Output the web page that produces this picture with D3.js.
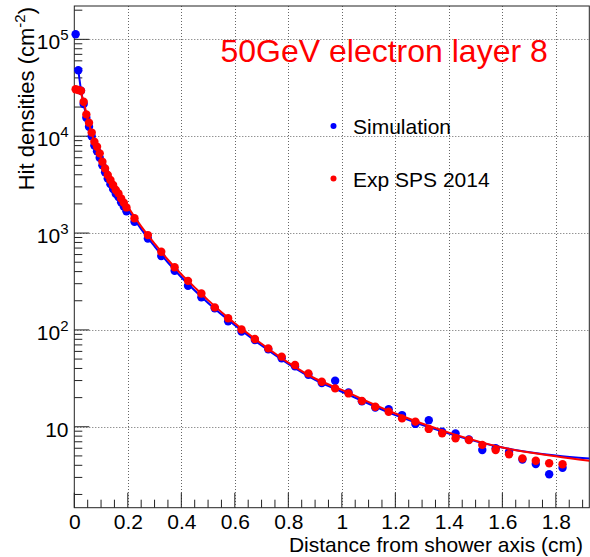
<!DOCTYPE html>
<html><head><meta charset="utf-8">
<script src="https://cdn.jsdelivr.net/npm/d3@7"></script>
<style>body{margin:0;background:#fff}svg{display:block}text{font-family:"Liberation Sans",Arial,sans-serif}</style>
</head><body>
<script>
// ---- data ----
const xBins = [0.005,0.015,0.025,0.035,0.045,0.055,0.065,0.075,0.085,0.095,0.105,0.115,0.125,0.135,0.145,0.155,0.165,0.175,0.185,0.195,
  0.225,0.275,0.325,0.375,0.425,0.475,0.525,0.575,0.625,0.675,0.725,0.775,0.825,0.875,0.925,0.975,1.025,1.075,1.125,1.175,1.225,1.275,
  1.325,1.375,1.425,1.475,1.525,1.575,1.625,1.675,1.725,1.775,1.825];
const simValues = [113000,48000,29500,21500,15500,12500,10000,8000,7000,6000,5000,4250,3650,3200,2850,2550,2350,2080,1880,1680,
  1310,880,578,408,286,217,167,123,96,78.5,63,51,42,34.5,28.3,29.9,22.6,18.3,15.8,15.2,13.2,10.7,
  11.7,8.9,8.55,7.4,5.75,6.0,5.5,4.6,4.12,3.23,3.77];
const expValues = [30500,30000,29500,22700,16800,13800,10900,8770,7790,6650,5450,4650,3970,3530,3130,2780,2570,2280,2060,1840,
  1420,953,641,443,321,238,171,132,101,80.5,64.5,53,43.5,35.6,29.2,24.9,22.1,18.5,16.1,14.3,12.2,11.3,
  9.5,8.55,7.6,7.3,6.5,5.75,5.2,4.7,4.46,4.2,4.1];
// fit curves
const simFitX = [0.015,0.025,0.035,0.05,0.075,0.1,0.15,0.2,0.25,0.3,0.35,0.4,0.45,0.5,0.6,0.7,0.8,0.9,1.0,1.2,1.4,1.6,1.8,1.925];
const simFitY = [48000,30000,21500,14000,8200,5500,3000,1750,1100,730,495,350,255,190,112,69,44.5,30.5,23,13.2,8.5,6.1,5.05,4.7];
const expFitX = [0.02,0.035,0.05,0.075,0.1,0.15,0.2,0.25,0.3,0.35,0.4,0.45,0.5,0.6,0.7,0.8,0.9,1.0,1.2,1.4,1.6,1.8,1.925];
const expFitY = [30000,22700,15000,8800,5900,3300,1880,1170,780,530,375,275,203,117,72,46,31.5,24,13.7,8.7,6.1,4.95,4.45];
const xTickValues = [0,0.2,0.4,0.6,0.8,1,1.2,1.4,1.6,1.8];
const yTickValues = [10,100,1000,10000,100000];
const yTickExp = ["", "2", "3", "4", "5"];
const legendLabels = ["Simulation","Exp SPS 2014"];
const titleText = "50GeV electron layer 8";

const W = 590, H = 557;
const L = 74.3, R = 589.3, T = 6, B = 507.7;
const svg = d3.select("body").append("svg").attr("width",W).attr("height",H);

const x = d3.scaleLinear().domain([0,1.925]).range([L,R]);
const y = d3.scaleLog().domain([1.46,2.21e5]).range([B,T]);

// grid
const grid = svg.append("g").attr("stroke","#666").attr("stroke-width",1).attr("stroke-dasharray","1,2");
grid.selectAll("line.gx").data(xTickValues.filter(v=>v>0)).join("line")
  .attr("x1",d=>Math.round(x(d))+0.5).attr("x2",d=>Math.round(x(d))+0.5).attr("y1",T).attr("y2",B);
grid.selectAll("line.gy").data(yTickValues).join("line")
  .attr("y1",d=>Math.round(y(d))+0.5).attr("y2",d=>Math.round(y(d))+0.5).attr("x1",L).attr("x2",R);

// frame
svg.append("rect").attr("x",L).attr("y",T).attr("width",R-L).attr("height",B-T)
  .attr("fill","none").attr("stroke","#222").attr("stroke-width",1);

// x axis
const xAxis = d3.axisBottom(x).tickValues(xTickValues).tickSize(0).tickFormat(d3.format("~g"));
const gx = svg.append("g").attr("transform",`translate(0,${B})`).call(xAxis);
gx.select(".domain").remove();
gx.selectAll("text").attr("font-size",21).attr("fill","#000").attr("dy",null).attr("y",21.5);
// x ticks (inside)
const xMinor = d3.range(0,1.93,0.05);
svg.append("g").attr("stroke","#222").selectAll("line").data(xMinor).join("line")
  .attr("x1",d=>x(d)).attr("x2",d=>x(d)).attr("y1",B)
  .attr("y2",(d,i)=> i%4===0 ? B-15 : B-8);

// y axis ticks (inside)
const yMinor = [];
for (let e=0; e<=5; e++) for (let m=1; m<10; m++) { const v=m*Math.pow(10,e); if (v>=1.46 && v<=2.21e5) yMinor.push(v); }
svg.append("g").attr("stroke","#222").selectAll("line").data(yMinor).join("line")
  .attr("y1",d=>y(d)).attr("y2",d=>y(d)).attr("x1",L)
  .attr("x2",d=> yTickValues.includes(d) ? L+15 : L+8);
// y labels
const yl = svg.append("g").attr("font-size",21).attr("text-anchor","end");
yTickValues.forEach((v,i)=>{
  const t = yl.append("text").attr("x",68.5).attr("y",y(v)+10);
  t.append("tspan").text("10");
  if (yTickExp[i]) t.append("tspan").attr("font-size",15).attr("dy",-9).text(yTickExp[i]);
});

// lines
const line = d3.line().x(d=>x(d[0])).y(d=>y(d[1])).curve(d3.curveMonotoneX);
svg.append("path").datum(simFitX.map((v,i)=>[v,simFitY[i]])).attr("d",line)
  .attr("fill","none").attr("stroke","#0000ff").attr("stroke-width",2);
svg.append("g").attr("fill","#0000ff").selectAll("circle").data(xBins).join("circle")
  .attr("cx",d=>x(d)).attr("cy",(d,i)=>y(simValues[i])).attr("r",4.2);
svg.append("path").datum(expFitX.map((v,i)=>[v,expFitY[i]])).attr("d",line)
  .attr("fill","none").attr("stroke","#ff0000").attr("stroke-width",2);
svg.append("g").attr("fill","#ff0000").selectAll("circle").data(xBins).join("circle")
  .attr("cx",d=>x(d)).attr("cy",(d,i)=>y(expValues[i])).attr("r",4.2);

// legend
const legColors = ["#0000ff","#ff0000"];
const legY = [126, 178.5];
legendLabels.forEach((lab,i)=>{
  svg.append("circle").attr("cx",333.5).attr("cy",legY[i]).attr("r",3).attr("fill",legColors[i]);
  svg.append("text").attr("x",353).attr("y",legY[i]+8).attr("font-size",21).attr("fill","#000").text(lab);
});

// title
svg.append("text").attr("x",220.5).attr("y",62.3).attr("font-size",32).attr("fill","#ff0000").text(titleText);

// axis titles
svg.append("text").attr("x",583).attr("y",552).attr("text-anchor","end").attr("font-size",21).attr("fill","#000")
  .text("Distance from shower axis (cm)");
const yt = svg.append("text").attr("transform","translate(33.5,7) rotate(-90)").attr("text-anchor","end")
  .attr("font-size",22).attr("fill","#000");
yt.append("tspan").text("Hit densities (cm");
yt.append("tspan").attr("font-size",15).attr("dy",-9).text("-2");
yt.append("tspan").attr("dy",9).text(")");
</script>
</body></html>
